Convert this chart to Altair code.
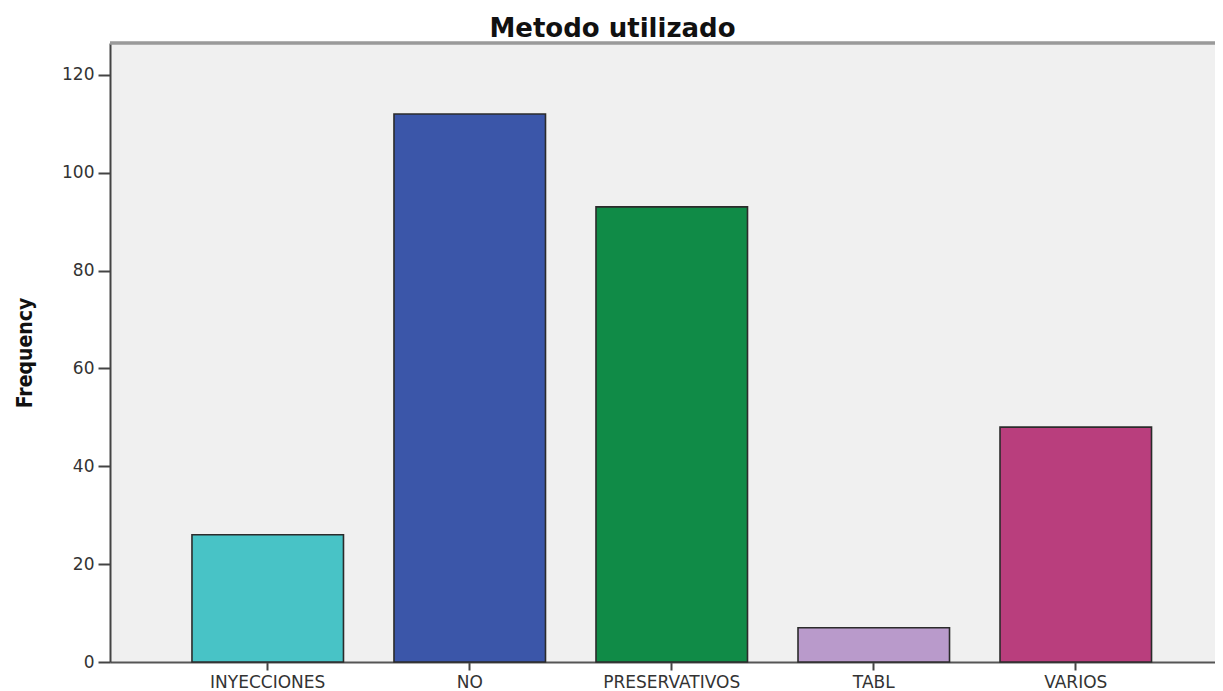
import altair as alt
import pandas as pd

categories = ["INYECCIONES", "NO", "PRESERVATIVOS", "TABL", "VARIOS"]
frequencies = [26, 112, 93, 7, 48]
bar_colors = ["#48C3C6", "#3B56A9", "#108B47", "#B99ACB", "#B93E7D"]
y_ticks = [0, 20, 40, 60, 80, 100, 120]

df = pd.DataFrame({"Metodo": categories, "Frequency": frequencies})

W, H = 1105, 619

bars = alt.Chart(df).mark_bar(stroke="#2b2b2b", strokeWidth=1.6).encode(
    x=alt.X(
        "Metodo:N",
        sort=categories,
        title=None,
        scale=alt.Scale(paddingInner=0.25, paddingOuter=0.36, align=0.5636),
        axis=alt.Axis(
            labelAngle=0,
            labelFont="DejaVu Sans",
            labelFontSize=17,
            labelColor="#333333",
            labelPadding=4,
            domainColor="#555555",
            domainWidth=2,
            tickColor="#444444",
            tickWidth=2,
            tickSize=8,
        ),
    ),
    y=alt.Y(
        "Frequency:Q",
        title="Frequency",
        scale=alt.Scale(domain=[0, 126.5], nice=False),
        axis=alt.Axis(
            values=y_ticks,
            grid=False,
            labelFont="DejaVu Sans",
            labelFontSize=17,
            labelColor="#333333",
            labelPadding=4,
            domainColor="#444444",
            domainWidth=2,
            tickColor="#444444",
            tickWidth=2,
            tickSize=12,
            titleFont="DejaVu Sans Condensed",
            titleFontWeight="bold",
            titleFontSize=21,
            titleColor="#111111",
            titlePadding=26,
        ),
    ),
    color=alt.Color(
        "Metodo:N",
        sort=categories,
        scale=alt.Scale(domain=categories, range=bar_colors),
        legend=None,
    ),
)

top_border = alt.Chart(df).mark_rule(color="#9a9a9a", strokeWidth=2.5).encode(
    y=alt.value(0)
)

chart = (
    alt.layer(bars, top_border)
    .properties(
        width=W,
        height=H,
        autosize=alt.AutoSizeParams(type="none"),
        padding={"left": 102, "top": 35, "right": 0, "bottom": 29},
        view=alt.ViewBackground(fill="#F0F0F0", strokeWidth=0),
        title=alt.TitleParams(
            "Metodo utilizado",
            font="DejaVu Sans",
            fontSize=26,
            fontWeight="bold",
            color="#111111",
            anchor="middle",
            dx=-50,
            dy=28,
            offset=2,
            baseline="bottom",
        ),
    )
    .configure(background="white")
)

chart.save("out.html", embed_options={"renderer": "svg", "actions": False})
